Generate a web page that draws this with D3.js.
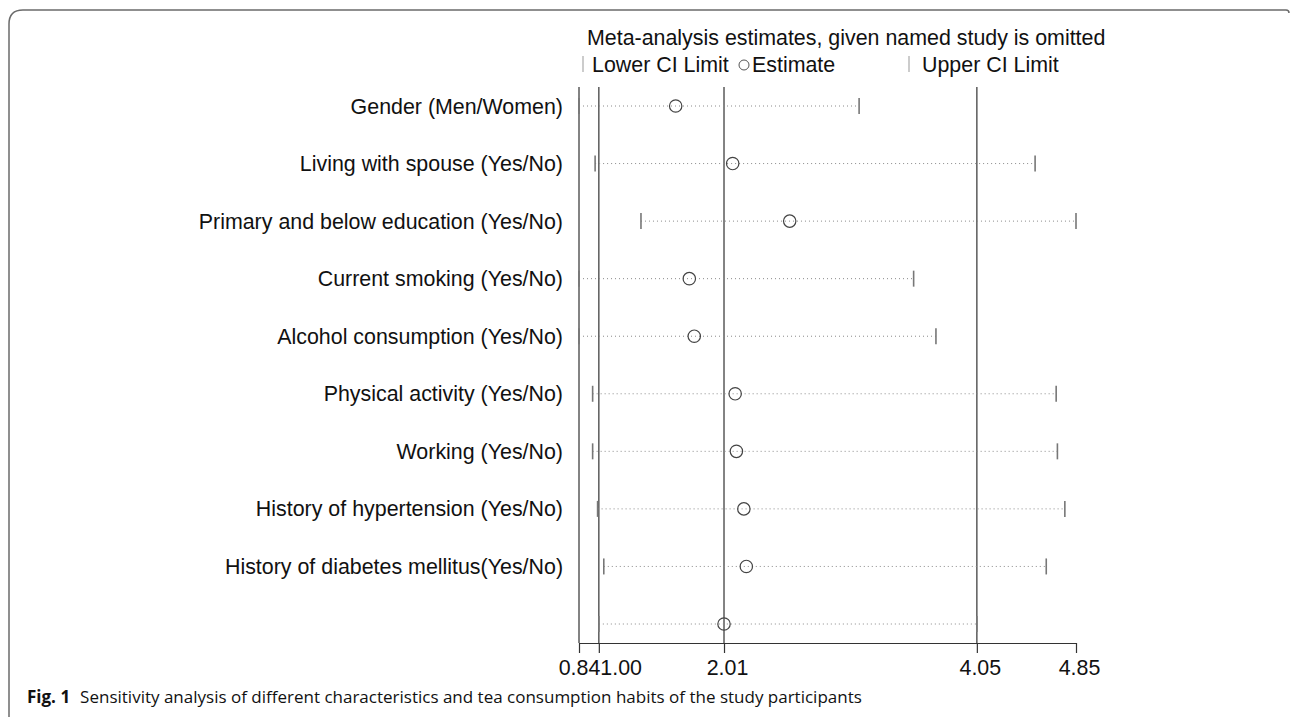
<!DOCTYPE html>
<html>
<head>
<meta charset="utf-8">
<script src="https://cdn.jsdelivr.net/npm/d3@7"></script>
<style>
  body { margin: 0; background: #fff; }
  svg { display: block; }
</style>
</head>
<body>
<div id="chart"></div>
<script>
var labels = [
  "Gender (Men/Women)",
  "Living with spouse (Yes/No)",
  "Primary and below education (Yes/No)",
  "Current smoking (Yes/No)",
  "Alcohol consumption (Yes/No)",
  "Physical activity (Yes/No)",
  "Working (Yes/No)",
  "History of hypertension (Yes/No)",
  "History of diabetes mellitus(Yes/No)",
  ""
];
var lower = [0.84, 0.97, 1.34, 0.84, 0.84, 0.95, 0.95, 0.99, 1.04, 1.00];
var estimate = [1.62, 2.08, 2.54, 1.73, 1.77, 2.10, 2.11, 2.17, 2.19, 2.01];
var upper = [3.10, 4.52, 4.85, 3.54, 3.72, 4.69, 4.70, 4.76, 4.61, 4.05];
var tickValues = [0.84, 1.00, 2.01, 4.05, 4.85];
var refLines = [0.84, 1.00, 2.01, 4.05];

var width = 1290;
var height = 717;

var svg = d3.select("#chart").append("svg").attr("width", width).attr("height", height);

// figure frame, rounded top-left corner
svg.append("path")
  .attr("d", "M9,717 L9,24 Q9,10 23,10 L1286,10 Q1289,10 1289,13")
  .attr("fill", "none")
  .attr("stroke", "#6b6b6b")
  .attr("stroke-width", 1.5);

var x = d3.scaleLinear().domain([0.84, 4.85]).range([579, 1076]);
var y = d3.scalePoint().domain(d3.range(labels.length)).range([106, 624]);

var axisY = 643;
var plotTop = 87;

var font = "'Liberation Sans', Arial, sans-serif";
var fs = "21.4px";

// title and legend
svg.append("text")
  .attr("x", 587)
  .attr("y", 45)
  .style("font-family", font)
  .style("font-size", fs)
  .attr("fill", "#111")
  .text("Meta-analysis estimates, given named study is omitted");

var legend = svg.append("g").style("font-family", font).style("font-size", fs).attr("fill", "#111");
legend.append("line").attr("x1", 583).attr("x2", 583).attr("y1", 56).attr("y2", 72).attr("stroke", "#999").attr("stroke-width", 1);
legend.append("text").attr("x", 592).attr("y", 72).text("Lower CI Limit");
legend.append("circle").attr("cx", 744).attr("cy", 65).attr("r", 5).attr("fill", "none").attr("stroke", "#555").attr("stroke-width", 1);
legend.append("text").attr("x", 752).attr("y", 72).text("Estimate");
legend.append("line").attr("x1", 909).attr("x2", 909).attr("y1", 56).attr("y2", 72).attr("stroke", "#999").attr("stroke-width", 1);
legend.append("text").attr("x", 922).attr("y", 72).text("Upper CI Limit");

// reference vertical lines
svg.selectAll(".ref")
  .data(refLines)
  .enter()
  .append("line")
  .attr("class", "ref")
  .attr("x1", function (d) { return x(d); })
  .attr("x2", function (d) { return x(d); })
  .attr("y1", plotTop)
  .attr("y2", axisY)
  .attr("stroke", "#5a5a5a")
  .attr("stroke-width", 1.5);

// x axis
var xAxis = d3.axisBottom(x)
  .tickValues(tickValues)
  .tickFormat(d3.format(".2f"))
  .tickSize(10)
  .tickSizeOuter(0);

var ax = svg.append("g")
  .attr("transform", "translate(0," + axisY + ")")
  .call(xAxis);
ax.select(".domain").attr("stroke", "#333").attr("stroke-width", 1.2);
ax.selectAll(".tick line").attr("stroke", "#333").attr("stroke-width", 1.2);
ax.selectAll(".tick text")
  .attr("y", 17)
  .attr("fill", "#111")
  .attr("text-anchor", function (d) { return d === 1 ? "start" : "middle"; })
  .attr("dx", function (d) { return d === 1 ? 1 : (d === 0.84 ? 0 : 3); })
  .style("font-family", font)
  .style("font-size", fs);

// rows
var rows = svg.selectAll(".row")
  .data(labels)
  .enter()
  .append("g")
  .attr("class", "row")
  .attr("transform", function (d, i) { return "translate(0," + y(i) + ")"; });

rows.append("text")
  .attr("x", 563)
  .attr("y", 0)
  .attr("dy", "0.35em")
  .attr("text-anchor", "end")
  .attr("fill", "#111")
  .style("font-family", font)
  .style("font-size", fs)
  .text(function (d) { return d; });

rows.append("line")
  .attr("x1", function (d, i) { return x(lower[i]); })
  .attr("x2", function (d, i) { return x(upper[i]); })
  .attr("stroke", "#8a8a8a")
  .attr("stroke-width", 1)
  .attr("stroke-dasharray", "1,3");

rows.append("line")
  .attr("x1", function (d, i) { return x(lower[i]); })
  .attr("x2", function (d, i) { return x(lower[i]); })
  .attr("y1", -8)
  .attr("y2", 8)
  .attr("stroke", "#777")
  .attr("stroke-width", 1.6);

rows.append("line")
  .attr("x1", function (d, i) { return x(upper[i]); })
  .attr("x2", function (d, i) { return x(upper[i]); })
  .attr("y1", -8)
  .attr("y2", 8)
  .attr("stroke", "#777")
  .attr("stroke-width", 1.6);

rows.append("circle")
  .attr("cx", function (d, i) { return x(estimate[i]); })
  .attr("cy", 0)
  .attr("r", 6.2)
  .attr("fill", "none")
  .attr("stroke", "#444")
  .attr("stroke-width", 1.2);

// caption
var cap = svg.append("text")
  .attr("x", 27)
  .attr("y", 703)
  .attr("fill", "#111")
  .style("font-family", "'Open Sans', 'Noto Sans', sans-serif")
  .style("font-size", "17px");
cap.append("tspan").style("font-weight", "bold").text("Fig. 1");
cap.append("tspan").attr("dx", 10).text("Sensitivity analysis of different characteristics and tea consumption habits of the study participants");
</script>
</body>
</html>
